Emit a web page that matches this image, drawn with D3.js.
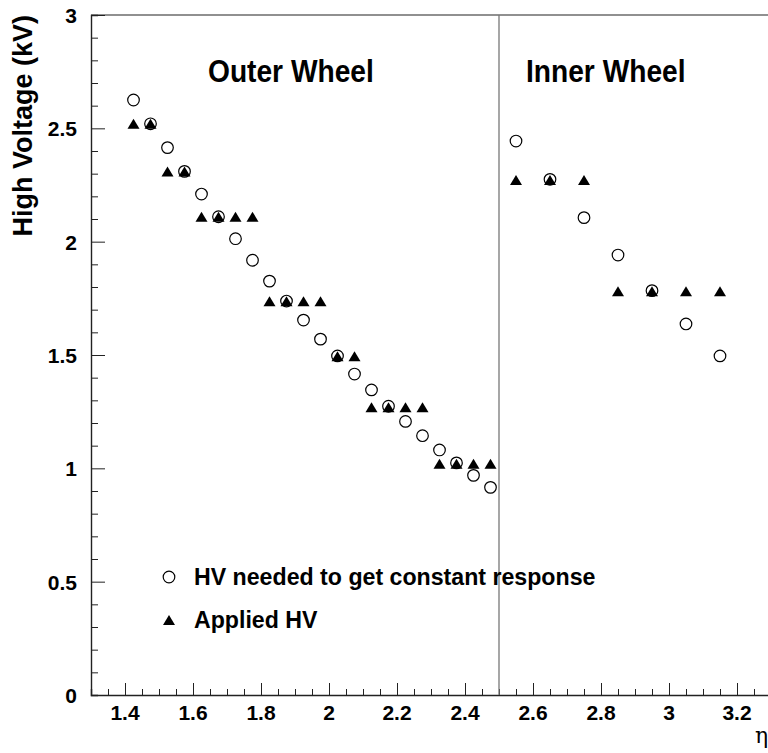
<!DOCTYPE html>
<html>
<head>
<meta charset="utf-8">
<script src="https://cdn.jsdelivr.net/npm/d3@7"></script>
<style>
  body { margin: 0; background: #fff; }
  text { font-family: "Liberation Sans", Arial, sans-serif; }
</style>
</head>
<body>
<script>
'use strict'

// eta bins, outer wheel (0.05 steps) and inner wheel (0.1 steps)
var etaOuter = [1.425, 1.475, 1.525, 1.575, 1.625, 1.675, 1.725, 1.775, 1.825, 1.875, 1.925,
                1.975, 2.025, 2.075, 2.125, 2.175, 2.225, 2.275, 2.325, 2.375, 2.425, 2.475];
var etaInner = [2.55, 2.65, 2.75, 2.85, 2.95, 3.05, 3.15];

// HV needed to get constant response (kV)
var neededOuter = [2.625, 2.52, 2.415, 2.31, 2.21, 2.11, 2.013, 1.918, 1.826, 1.738, 1.654,
                   1.57, 1.496, 1.416, 1.346, 1.274, 1.207, 1.144, 1.081, 1.024, 0.969, 0.916];
var neededInner = [2.444, 2.275, 2.106, 1.941, 1.784, 1.637, 1.496];

// applied HV (kV)
var appliedOuter = [2.52, 2.52, 2.31, 2.31, 2.11, 2.11, 2.11, 2.11, 1.737, 1.737, 1.737,
                    1.737, 1.494, 1.494, 1.27, 1.27, 1.27, 1.27, 1.02, 1.02, 1.02, 1.02];
var appliedInner = [2.272, 2.272, 2.272, 1.781, 1.781, 1.781, 1.781];

var xTicks = [1.4, 1.6, 1.8, 2, 2.2, 2.4, 2.6, 2.8, 3, 3.2];
var yTicks = [0, 0.5, 1, 1.5, 2, 2.5, 3];

var w = 768;
var h = 753;
var margin = {left: 91, top: 15};
var pw = 680, ph = 680;

var needed = etaOuter.map(function(e, i) { return {x: e, y: neededOuter[i]}; })
  .concat(etaInner.map(function(e, i) { return {x: e, y: neededInner[i]}; }));
var applied = etaOuter.map(function(e, i) { return {x: e, y: appliedOuter[i]}; })
  .concat(etaInner.map(function(e, i) { return {x: e, y: appliedInner[i]}; }));

var x = d3.scaleLinear().domain([1.3, 3.3]).range([0, pw]);
var y = d3.scaleLinear().domain([0, 3]).range([ph, 0]);

var svg = d3.select("body").append("svg")
  .attr("width", w)
  .attr("height", h);

var g = svg.append("g")
  .attr("transform", "translate(" + margin.left + "," + margin.top + ")");

var axisColor = "#222";

// frame: top line and the two axes
g.append("line")
  .attr("x1", 0).attr("x2", pw).attr("y1", 0).attr("y2", 0)
  .attr("stroke", axisColor).attr("stroke-width", 1.2);

// x axis, ticks pointing inward
var xMinor = d3.range(27, 66).map(function(i) { return i * 0.05; })
  .filter(function(v) { return v > 1.3 && v < 3.3; });
var xAxis = d3.axisTop(x)
  .tickValues(xMinor)
  .tickSize(6)
  .tickFormat("");
var xa = g.append("g").attr("transform", "translate(0," + ph + ")").call(xAxis);
xa.select(".domain").attr("stroke", axisColor).attr("stroke-width", 1.4);
xa.selectAll(".tick line")
  .attr("stroke", axisColor)
  .attr("y2", function(d) {
    var r = Math.round(d * 100) / 100;
    return xTicks.indexOf(r) >= 0 ? -12 : -6;
  });

xa.selectAll("text.xl")
  .data(xTicks)
  .enter()
  .append("text")
  .attr("class", "xl")
  .attr("x", function(d) { return x(d); })
  .attr("y", 25)
  .attr("text-anchor", "middle")
  .attr("font-size", "21px")
  .attr("font-weight", "bold")
  .attr("fill", "#000")
  .text(function(d) { return d; });

// y axis
var yMinor = d3.range(0, 31).map(function(i) { return i / 10; });
var yAxis = d3.axisRight(y)
  .tickValues(yMinor)
  .tickSize(7)
  .tickFormat("");
var ya = g.append("g").call(yAxis);
ya.select(".domain").attr("stroke", axisColor).attr("stroke-width", 1.4);
ya.selectAll(".tick line")
  .attr("stroke", axisColor)
  .attr("x2", function(d) {
    var r = Math.round(d * 10) / 10;
    return yTicks.indexOf(r) >= 0 ? 14 : 7;
  });

ya.selectAll("text.yl")
  .data(yTicks)
  .enter()
  .append("text")
  .attr("class", "yl")
  .attr("x", -14)
  .attr("y", function(d) { return y(d) + 8; })
  .attr("text-anchor", "end")
  .attr("font-size", "21px")
  .attr("font-weight", "bold")
  .attr("fill", "#000")
  .text(function(d) { return d; });

// divider between outer and inner wheel
g.append("line")
  .attr("x1", x(2.5)).attr("x2", x(2.5))
  .attr("y1", 0).attr("y2", ph)
  .attr("stroke", "#777")
  .attr("stroke-width", 1.3);

// markers
var tri = "M0,-5L6,5L-6,5Z";

g.selectAll("circle.needed")
  .data(needed)
  .enter()
  .append("circle")
  .attr("class", "needed")
  .attr("cx", function(d) { return x(d.x); })
  .attr("cy", function(d) { return y(d.y); })
  .attr("r", 5.8)
  .attr("fill", "none")
  .attr("stroke", "#000")
  .attr("stroke-width", 1.2);

g.selectAll("path.applied")
  .data(applied)
  .enter()
  .append("path")
  .attr("class", "applied")
  .attr("d", tri)
  .attr("transform", function(d) { return "translate(" + x(d.x) + "," + y(d.y) + ")"; })
  .attr("fill", "#000");

// bold label, squeezed a little sideways like the original font
function label(tx, ty, size, sx, str) {
  svg.append("text")
    .attr("transform", "translate(" + tx + "," + ty + ") scale(" + sx + ",1)")
    .attr("font-size", size + "px").attr("font-weight", "bold")
    .text(str);
}

// region labels
label(208, 82, 32, 0.88, "Outer Wheel");
label(526, 82, 32, 0.88, "Inner Wheel");

// legend
svg.append("circle")
  .attr("cx", 169).attr("cy", 577)
  .attr("r", 5.8)
  .attr("fill", "none").attr("stroke", "#000").attr("stroke-width", 1.2);
label(194, 585, 24, 0.965, "HV needed to get constant response");

svg.append("path")
  .attr("d", tri)
  .attr("transform", "translate(169,620)")
  .attr("fill", "#000");
label(194, 628, 24, 0.965, "Applied HV");

// axis titles
svg.append("text")
  .attr("transform", "translate(32,15) rotate(-90)")
  .attr("text-anchor", "end")
  .attr("font-size", "27px").attr("font-weight", "bold")
  .text("High Voltage (kV)");

svg.append("text")
  .attr("x", 755).attr("y", 743)
  .style("font-family", "'DejaVu Serif', serif")
  .attr("font-size", "22px")
  .text("η");
</script>
</body>
</html>
